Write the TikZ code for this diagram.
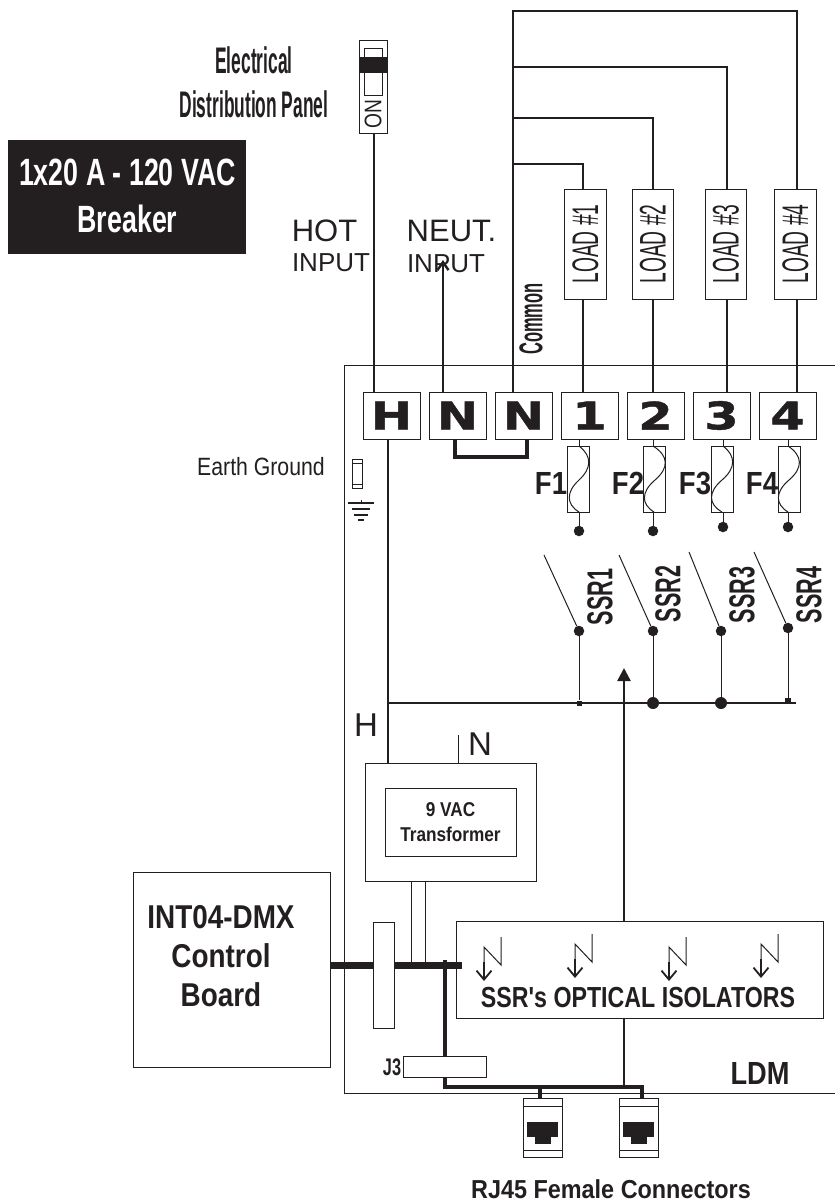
\documentclass[tikz,border=0pt]{standalone}
\usepackage{fontspec}
\setmainfont{Liberation Sans}
\newfontfamily\ldmbold[UprightFont=* Bold]{Liberation Sans}
\newfontfamily\ldmheavy[UprightFont=* Bold]{DejaVu Sans}
\usetikzlibrary{arrows.meta}
\definecolor{ink}{HTML}{231F20}
\tikzset{
	boldtxt/.style 2 args={inner sep=0, text=ink, font=\ldmbold\addfontfeatures{FakeStretch=#1}\fontsize{#2}{#2}\selectfont},
	plaintxt/.style 2 args={inner sep=0, text=ink, font=\addfontfeatures{FakeStretch=#1}\fontsize{#2}{#2}\selectfont},
	termtxt/.style={text=ink, font=\ldmheavy\addfontfeatures{FakeStretch=1.3,FakeBold=1.2}\fontsize{38}{38}\selectfont},
	outline/.style={draw=ink, line width=0.9, fill=white, inner sep=0, outer sep=0},
	term/.style={outline, termtxt, minimum width=57, minimum height=47},
	loadbox/.style={outline, minimum width=41.5, minimum height=110},
	fusebox/.style={outline, line width=1, minimum width=22, minimum height=66},
	rjbox/.style={outline, minimum width=39, minimum height=59},
	dot/.style={circle, fill=ink, inner sep=0, outer sep=0, minimum size=10.5},
	bigdot/.style={dot, minimum size=12},
	wire/.style={draw=ink, line width=2.4},
	fine/.style={draw=ink, line width=1},
	fat/.style={draw=ink, line width=4.5},
	zap/.style={draw=ink, line width=1.8, -{Straight Barb[length=9, width=15]}},
	gndbar/.style={draw=ink, line width=2}
}
\begin{document}
\begin{tikzpicture}[x=1pt, y=-1pt]
	\useasboundingbox (0,0) rectangle (835,1202);

	% Columns and rows of the wires
	\coordinate (cH) at (374,0);
	\coordinate (cN) at (443,0);
	\coordinate (cC) at (513,0);
	\coordinate (c1) at (583,0);
	\coordinate (c2) at (653,0);
	\coordinate (c3) at (727,0);
	\coordinate (c4) at (797,0);
	\coordinate (r1) at (0,164);
	\coordinate (r2) at (0,118);
	\coordinate (r3) at (0,67);
	\coordinate (r4) at (0,11);

	% LDM frame, open on the right
	\draw[outline, fill=none] (835,365) -- (344,365) -- (344,1093) -- (835,1093);

	% Breaker
	\node[outline, minimum width=28, minimum height=93] (breaker) at (373,86.5) {};
	\node[outline, minimum width=18, minimum height=47] (lever) at (373,71.5) {};
	\fill[ink] (359,57) rectangle (387,73);
	\node[plaintxt={.8}{24}, rotate=90] (ontxt) at (373,114) {ON};
	\node[boldtxt={.47}{37}, align=center] (panel) at (254,82) {Electrical\\[7pt]Distribution Panel};
	\node[fill=ink, minimum width=238, minimum height=114, inner sep=0] (bkr) at (127,197) {};
	\node[boldtxt={.705}{38}, text=white, align=center] (bkrtxt) at (127.5,196) {1x20 A - 120 VAC\\[9pt]Breaker};

	% Input labels
	\node[plaintxt={1}{31}] (hot) at (324.5,231) {HOT};
	\node[plaintxt={1}{26}] (hotin) at (331,263) {INPUT};
	\node[plaintxt={1}{31}] (neut) at (451.5,231) {NEUT.};
	\node[plaintxt={1}{26}] (neutin) at (446,264) {INPUT};
	\node[boldtxt={.5}{33}, rotate=90] (common) at (531,319) {Common};
	\node[plaintxt={.85}{25}] (earth) at (261,467) {Earth Ground};

	% Terminals
	\node[term] (tH) at (391.5,415.5) {H};
	\node[term] (tN) at (457.5,415.5) {N};
	\node[term] (tC) at (523.5,415.5) {N};
	\node[term] (t1) at (589.5,415.5) {1};
	\node[term] (t2) at (655.5,415.5) {2};
	\node[term] (t3) at (721.5,415.5) {3};
	\node[term] (t4) at (787.5,415.5) {4};

	% Loads
	\node[loadbox] (load1) at (585.5,244) {};
	\node[loadbox] (load2) at (653,244) {};
	\node[loadbox] (load3) at (726,244) {};
	\node[loadbox] (load4) at (795.5,244) {};
	\node[plaintxt={.52}{37}, rotate=90] (ltxt1) at (load1) {LOAD \#1};
	\node[plaintxt={.52}{37}, rotate=90] (ltxt2) at (load2) {LOAD \#2};
	\node[plaintxt={.52}{37}, rotate=90] (ltxt3) at (load3) {LOAD \#3};
	\node[plaintxt={.52}{37}, rotate=90] (ltxt4) at (load4) {LOAD \#4};

	% Wires above the frame
	\draw[wire] (breaker.south -| cH) -- (tH.north -| cH);
	\draw[wire, -{Straight Barb[length=8, width=11]}] (tN.north -| cN) -- (443,260);
	\draw[draw=ink, line width=2.8] (tC.north -| cC) -- (cC |- r4) -- (c4 |- r4) -- (load4.north -| c4);
	\draw[wire] (cC |- r3) -- (c3 |- r3) -- (load3.north -| c3);
	\draw[wire] (cC |- r2) -- (c2 |- r2) -- (load2.north -| c2);
	\draw[wire] (cC |- r1) -- (c1 |- r1) -- (load1.north -| c1);
	\draw[wire] (load1.south -| c1) -- (t1.north -| c1);
	\draw[wire] (load2.south -| c2) -- (t2.north -| c2);
	\draw[wire] (load3.south -| c3) -- (t3.north -| c3);
	\draw[wire] (load4.south -| c4) -- (t4.north -| c4);

	% Neutral jumper
	\draw[draw=ink, line width=4] (455,439) -- (455,457) -- (527,457) -- (527,439);

	% Fuses
	\node[fusebox] (fuse1) at (578,479) {};
	\node[fusebox] (fuse2) at (654.5,479) {};
	\node[fusebox] (fuse3) at (722,479) {};
	\node[fusebox] (fuse4) at (789,479) {};
	\node[boldtxt={.86}{32}, anchor=base] (f1) at (551,494) {F1};
	\node[boldtxt={.86}{32}, anchor=base] (f2) at (628,494) {F2};
	\node[boldtxt={.86}{32}, anchor=base] (f3) at (695,494) {F3};
	\node[boldtxt={.86}{32}, anchor=base] (f4) at (762,494) {F4};
	\draw[fine] (579,446) .. controls (592,456) and (592,468) .. (579,480) .. controls (566,492) and (566,504) .. (579,512);
	\draw[fine] (653,446) .. controls (669,456) and (669,468) .. (655,480) .. controls (641,492) and (641,504) .. (654,512);
	\draw[fine] (723,446) .. controls (736,456) and (736,468) .. (722,480) .. controls (708,492) and (708,504) .. (722,512);
	\draw[fine] (788,446) .. controls (803,456) and (803,468) .. (789,480) .. controls (775,492) and (775,504) .. (788,512);

	% Dots under the fuses
	\node[dot] (fd1) at (579,531) {};
	\node[dot] (fd2) at (653,531) {};
	\node[dot] (fd3) at (723,527) {};
	\node[dot] (fd4) at (788,527) {};
	\draw[fine] (t1.south -| fd1) -- (fuse1.north -| fd1);
	\draw[fine] (t2.south -| fd2) -- (fuse2.north -| fd2);
	\draw[fine] (t3.south -| fd3) -- (fuse3.north -| fd3);
	\draw[fine] (t4.south -| fd4) -- (fuse4.north -| fd4);
	\draw[fine] (fuse1.south -| fd1) -- (fd1);
	\draw[fine] (fuse2.south -| fd2) -- (fd2);
	\draw[fine] (fuse3.south -| fd3) -- (fd3);
	\draw[fine] (fuse4.south -| fd4) -- (fd4);

	% SSR contacts
	\node[dot] (sd1) at (579,631) {};
	\node[dot] (sd2) at (653,631) {};
	\node[dot] (sd3) at (721,631) {};
	\node[dot] (sd4) at (788,628) {};
	\coordinate (so1) at (544,555);
	\coordinate (so2) at (619,555);
	\coordinate (so3) at (689,552);
	\coordinate (so4) at (754,552);
	\draw[fine] (so1) -- (sd1);
	\draw[fine] (so2) -- (sd2);
	\draw[fine] (so3) -- (sd3);
	\draw[fine] (so4) -- (sd4);
	\node[boldtxt={.6}{36}, rotate=90] (ssr1) at (600,597) {SSR1};
	\node[boldtxt={.6}{36}, rotate=90] (ssr2) at (668,594) {SSR2};
	\node[boldtxt={.6}{36}, rotate=90] (ssr3) at (742,595) {SSR3};
	\node[boldtxt={.6}{36}, rotate=90] (ssr4) at (809,595) {SSR4};

	% Hot bus
	\coordinate (busL) at (388,703);
	\coordinate (busR) at (796,703);
	\node[bigdot] (bd2) at (653,703) {};
	\node[bigdot] (bd3) at (721,703) {};
	\node[fill=ink, minimum size=5, inner sep=0] (bd1) at (579,703) {};
	\node[fill=ink, minimum size=6, inner sep=0] (bd4) at (788,701) {};
	\draw[fine, line width=1.2] (busL) -- (busR);
	\draw[fine] (sd1) -- (bd1);
	\draw[fine] (sd2) -- (bd2);
	\draw[fine] (sd3) -- (bd3);
	\draw[fine] (sd4) -- (bd4);

	% Earth ground symbol
	\node[outline, minimum width=10, minimum height=29] (gfuse) at (357.5,473.5) {};
	\draw[fine] (352.5,463) -- (362.5,463);
	\draw[fine] (352.5,484) -- (362.5,484);
	\draw[fine] (361,500) -- (361,503);
	\draw[gndbar] (348,503) -- (374,503);
	\draw[gndbar] (352,509) -- (370,509);
	\draw[gndbar] (354,515) -- (368,515);
	\draw[gndbar] (358,520) -- (364,520);

	% Transformer
	\node[outline, minimum width=171, minimum height=118] (xfmr) at (450.5,822) {};
	\node[outline, minimum width=131, minimum height=68, boldtxt={.86}{20}, align=center] (xfmrin) at (450.5,822) {9 VAC\\[5pt]Transformer};
	\node[plaintxt={1}{33}] (hlab) at (366,725) {H};
	\node[plaintxt={1}{33}] (nlab) at (480,744) {N};
	\coordinate (ntop) at (458,735);
	\draw[fine, line width=1.2] (tH.south -| busL) -- (xfmr.north -| busL);
	\draw[fine] (ntop) -- (xfmr.north -| ntop);

	% Control board and isolators
	\node[outline, minimum width=197, minimum height=195] (board) at (231.5,969.5) {};
	\node[boldtxt={.845}{33}, align=center] (boardtxt) at (221,956.5) {INT04-DMX\\[6pt]Control\\[6pt]Board};
	\node[outline, minimum width=367, minimum height=97] (iso) at (639.5,969.5) {};
	\node[boldtxt={.8}{29}] (isotxt) at (638,998) {SSR's OPTICAL ISOLATORS};
	\node[boldtxt={.85}{32}] (ldm) at (760,1073) {LDM};

	% Light signs in the isolators
	\draw[fine] (501,937) -- (501,965) -- (484,947) -- (484,965);
	\draw[fine] (592,934) -- (592,962) -- (575,944) -- (575,962);
	\draw[fine] (686,937) -- (686,965) -- (669,947) -- (669,965);
	\draw[fine] (778,934) -- (778,962) -- (761,944) -- (761,962);
	\draw[zap] (484,962) -- (484,981);
	\draw[zap] (575,959) -- (575,978);
	\draw[zap] (669,962) -- (669,981);
	\draw[zap] (761,959) -- (761,978);

	% Signal to the SSRs
	\coordinate (sigtip) at (624,668);
	\draw[wire, -{Triangle[length=13, width=13]}] (iso.north -| sigtip) -- (sigtip);

	% Secondary wires and data bus
	\coordinate (s1) at (411,965);
	\coordinate (s2) at (425,965);
	\draw[fine] (xfmr.south -| s1) -- (s1);
	\draw[fine] (xfmr.south -| s2) -- (s2);
	\coordinate (busend) at (462,965);
	\draw[draw=ink, line width=7] (board.east |- busend) -- (busend);
	\node[outline, minimum width=21, minimum height=106] (plate) at (383.5,975) {};

	% J3 and RJ45
	\node[rjbox] (rj1) at (542.5,1127.5) {};
	\node[rjbox] (rj2) at (638.5,1127.5) {};
	\coordinate (rail) at (642,1087);
	\coordinate (rj1in) at (540,1098);
	\coordinate (rj2in) at (642,1098);
	\coordinate (railtop) at (445,960);
	\draw[fat] (railtop) -- (445,1087) -- (rail) -- (rj2in);
	\draw[fat] (rj1in |- rail) -- (rj1in);
	\draw[wire] (iso.south -| sigtip) -- (rail -| sigtip);
	\node[outline, minimum width=83, minimum height=21] (j3) at (444.5,1066.5) {};
	\node[boldtxt={.68}{24}] (j3txt) at (392,1067) {J3};

	% Jacks
	\draw[fine] (523,1106) -- (562,1106);
	\draw[fine] (523,1150) -- (562,1150);
	\fill[ink] (527,1122) rectangle (558,1137);
	\fill[ink] (535,1137) rectangle (551,1144);
	\draw[fine] (619,1106) -- (658,1106);
	\draw[fine] (619,1150) -- (658,1150);
	\fill[ink] (623,1122) rectangle (654,1137);
	\fill[ink] (631,1137) rectangle (647,1144);
	\node[boldtxt={.9}{26}] (rjtxt) at (611,1189) {RJ45 Female Connectors};
\end{tikzpicture}
\end{document}
